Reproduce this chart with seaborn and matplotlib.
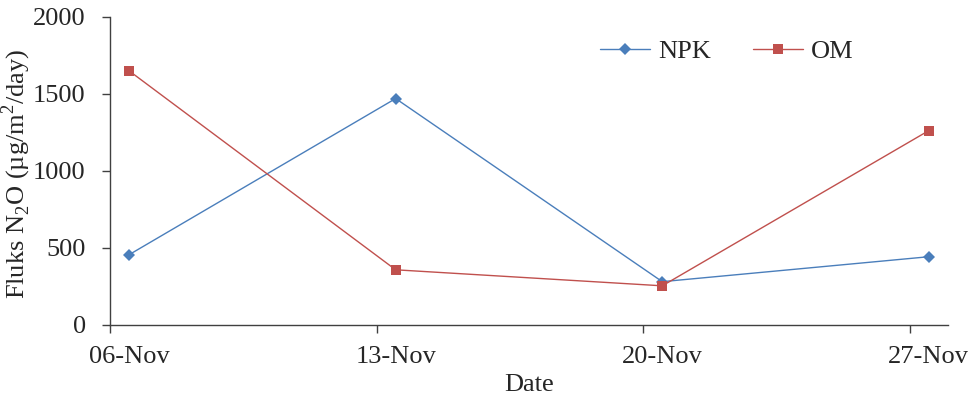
import matplotlib
matplotlib.use("Agg")
import matplotlib.pyplot as plt
import pandas as pd
import seaborn as sns

# Sampling dates and N2O flux per treatment
dates = ["2023-11-06", "2023-11-13", "2023-11-20", "2023-11-27"]
npk = [455, 1469, 280, 442]
om = [1649, 357, 253, 1261]
tick_labels = ["06-Nov", "13-Nov", "20-Nov", "27-Nov"]
y_ticks = [0, 500, 1000, 1500, 2000]

sns.set_style("ticks")
plt.rcParams["font.family"] = ["Liberation Serif", "DejaVu Serif"]
plt.rcParams["mathtext.fontset"] = "custom"
plt.rcParams["mathtext.rm"] = "Liberation Serif"

# each day is a bin on the date axis; points and labels sit mid-day
day_start = pd.to_datetime(dates)
mid_day = day_start + pd.Timedelta(hours=12)
df = pd.DataFrame({"Date": mid_day, "NPK": npk, "OM": om})
long = df.melt(id_vars="Date", var_name="Treatment", value_name="Flux")

fig = plt.figure(figsize=(9.72, 3.99), dpi=100)
ax = fig.add_axes([0.1132, 0.186, 0.862, 0.772])

palette = {"NPK": "#4A7EBB", "OM": "#C0504D"}
sns.lineplot(data=long, x="Date", y="Flux", hue="Treatment", style="Treatment",
             markers={"NPK": "D", "OM": "s"}, dashes=False, palette=palette,
             linewidth=1.0, markersize=6.5, markeredgewidth=0, ax=ax)

ax.set_xlim(pd.Timestamp("2023-11-06"), pd.Timestamp("2023-11-28"))
ax.set_ylim(0, 2000)
# tick marks at day boundaries, labels centred on the day
ax.set_xticks(day_start)
ax.set_xticklabels([])
ax.set_xticks(mid_day, minor=True)
ax.set_xticklabels(tick_labels, minor=True)
ax.set_yticks(y_ticks)
ax.tick_params(axis="both", which="major", labelsize=19, direction="out",
               length=5.5, width=1, color="#404040")
ax.tick_params(axis="x", which="minor", labelsize=19, length=0, pad=15.5)
ax.tick_params(axis="y", pad=12)
for s in ["left", "bottom"]:
    ax.spines[s].set_color("#404040")
    ax.spines[s].set_linewidth(1)
sns.despine(ax=ax)

ax.set_xlabel("Date", fontsize=19, labelpad=4)
ax.set_ylabel("Fluks N$_\\mathregular{2}$O (µg/m$^\\mathregular{2}$/day)",
              fontsize=19)
ax.yaxis.set_label_coords(-0.092, 0.49)

leg = ax.legend(loc="center left", bbox_to_anchor=(0.5565, 0.887), ncol=2,
                frameon=False, fontsize=19, handlelength=1.9,
                columnspacing=1.6, handletextpad=0.3)
leg.set_title(None)

fig.savefig("out.png", dpi=100)
